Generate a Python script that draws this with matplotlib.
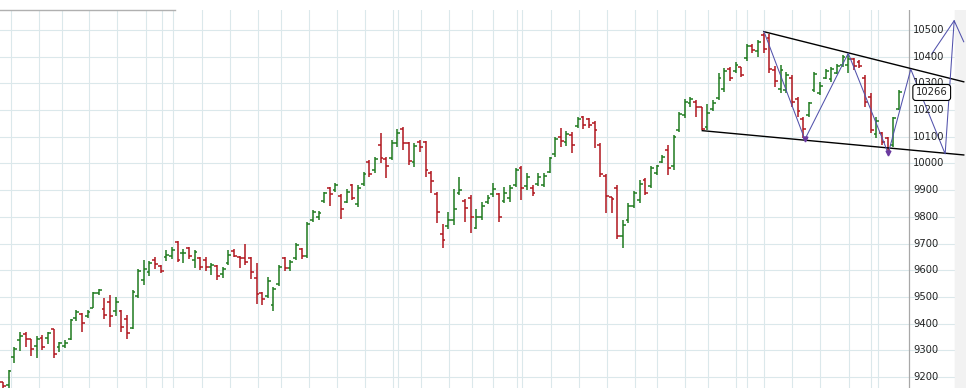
import matplotlib
matplotlib.use("Agg")
import matplotlib.pyplot as plt
import numpy as np

# --- OHLC data (one value per daily bar) ---
highs = [9183, 9227, 9312, 9368, 9368, 9343, 9354, 9358, 9368, 9380,
         9333, 9339, 9417, 9451, 9439, 9451, 9520, 9530, 9495, 9508,
         9501, 9451, 9433, 9526, 9604, 9639, 9635, 9651, 9620, 9676,
         9686, 9711, 9679, 9689, 9676, 9649, 9651, 9626, 9620, 9614,
         9676, 9679, 9654, 9697, 9649, 9627, 9519, 9575, 9538, 9620,
         9650, 9640, 9702, 9684, 9781, 9826, 9823, 9895, 9913, 9928,
         9886, 9903, 9923, 9920, 9970, 10013, 10026, 10113, 10023, 10088,
         10128, 10138, 10082, 10076, 10088, 10086, 9973, 9892, 9774, 9820,
         9903, 9948, 9867, 9882, 9828, 9857, 9882, 9926, 9888, 9911,
         9920, 9982, 9991, 9963, 9920, 9966, 9966, 10026, 10100, 10132,
         10123, 10119, 10173, 10178, 10169, 10160, 10076, 9961, 9876, 9920,
         9788, 9853, 9898, 9938, 9945, 9991, 9995, 10032, 10070, 10107,
         10194, 10240, 10250, 10238, 10210, 10223, 10238, 10338, 10357, 10363,
         10381, 10363, 10448, 10448, 10463, 10490, 10485, 10365, 10369, 10344,
         10332, 10248, 10173, 10232, 10344, 10307, 10353, 10363, 10373, 10406,
         10410, 10394, 10388, 10332, 10265, 10176, 10119, 10101, 10176, 10275]
lows = [9150, 9155, 9252, 9299, 9314, 9279, 9270, 9302, 9324, 9273,
        9295, 9308, 9339, 9411, 9370, 9423, 9458, 9508, 9417, 9389,
        9429, 9370, 9342, 9379, 9495, 9545, 9579, 9604, 9589, 9636,
        9641, 9630, 9629, 9641, 9608, 9601, 9599, 9583, 9564, 9570,
        9620, 9649, 9608, 9620, 9566, 9474, 9470, 9496, 9448, 9541,
        9597, 9598, 9639, 9642, 9646, 9781, 9789, 9853, 9842, 9895,
        9791, 9851, 9863, 9836, 9917, 9948, 9966, 10003, 9944, 10013,
        10063, 10051, 9994, 9988, 10044, 9948, 9891, 9776, 9685, 9754,
        9770, 9882, 9782, 9739, 9754, 9789, 9848, 9876, 9782, 9851,
        9857, 9911, 9863, 9901, 9878, 9916, 9913, 9966, 10026, 10063,
        10066, 10041, 10132, 10128, 10132, 10057, 9951, 9813, 9813, 9716,
        9685, 9776, 9832, 9851, 9882, 9907, 9957, 10001, 9957, 9976,
        10119, 10169, 10210, 10176, 10126, 10126, 10198, 10238, 10269, 10310,
        10338, 10323, 10385, 10413, 10400, 10413, 10340, 10288, 10265, 10263,
        10213, 10176, 10095, 10176, 10269, 10257, 10315, 10307, 10335, 10363,
        10338, 10350, 10356, 10211, 10113, 10094, 10069, 10038, 10063, 10200]
opens = [9180, 9170, 9274, 9339, 9362, 9343, 9317, 9345, 9345, 9379,
         9312, 9317, 9342, 9420, 9436, 9430, 9460, 9516, 9454, 9483,
         9448, 9448, 9417, 9382, 9502, 9564, 9595, 9639, 9616, 9651,
         9654, 9706, 9664, 9684, 9639, 9645, 9640, 9614, 9616, 9586,
         9626, 9672, 9649, 9645, 9645, 9570, 9516, 9505, 9470, 9550,
         9645, 9608, 9645, 9680, 9655, 9790, 9800, 9860, 9910, 9900,
         9880, 9855, 9918, 9850, 9925, 10005, 9975, 10070, 10015, 10020,
         10075, 10130, 10075, 10005, 10080, 10080, 9965, 9885, 9735, 9765,
         9790, 9890, 9860, 9870, 9760, 9800, 9855, 9885, 9885, 9860,
         9870, 9920, 9985, 9915, 9910, 9925, 9920, 9970, 10035, 10100,
         10080, 10105, 10140, 10175, 10165, 10150, 10070, 9955, 9876, 9910,
         9730, 9790, 9840, 9865, 9940, 9915, 9965, 10005, 10050, 9990,
         10125, 10180, 10225, 10230, 10210, 10135, 10205, 10245, 10280, 10355,
         10345, 10360, 10395, 10440, 10420, 10480, 10470, 10350, 10280, 10275,
         10320, 10240, 10165, 10180, 10275, 10265, 10320, 10315, 10340, 10370,
         10370, 10390, 10380, 10320, 10250, 10110, 10115, 10095, 10070, 10205]
closes = [9165, 9221, 9305, 9354, 9342, 9305, 9343, 9312, 9364, 9287,
          9327, 9329, 9414, 9443, 9402, 9445, 9514, 9526, 9433, 9429,
          9483, 9387, 9364, 9520, 9599, 9605, 9626, 9623, 9599, 9658,
          9676, 9639, 9666, 9654, 9670, 9614, 9612, 9620, 9579, 9604,
          9658, 9654, 9645, 9632, 9595, 9511, 9492, 9560, 9530, 9612,
          9610, 9632, 9695, 9655, 9775, 9818, 9815, 9888, 9885, 9920,
          9828, 9895, 9870, 9910, 9962, 9960, 10018, 10020, 9990, 10075,
          10115, 10075, 10010, 10065, 10060, 9975, 9935, 9820, 9715, 9790,
          9830, 9900, 9835, 9800, 9800, 9840, 9870, 9905, 9800, 9890,
          9910, 9975, 9910, 9950, 9890, 9950, 9955, 10020, 10090, 10085,
          10110, 10070, 10165, 10145, 10145, 10125, 9960, 9880, 9868, 9730,
          9770, 9840, 9890, 9925, 9890, 9985, 9990, 10025, 9985, 10100,
          10185, 10230, 10240, 10210, 10130, 10190, 10225, 10320, 10345, 10320,
          10370, 10330, 10440, 10425, 10455, 10430, 10355, 10310, 10350, 10330,
          10230, 10195, 10130, 10225, 10335, 10290, 10345, 10355, 10365, 10400,
          10390, 10365, 10365, 10230, 10125, 10160, 10080, 10050, 10170, 10266]

# date grid (bar positions of the vertical grid lines)
date_grid = [1.4, 6.4, 10.5, 15.3, 20.2, 25.4, 28.2, 30.2, 35.3, 40.3,
             45.3, 49.3, 54.3, 59.3, 64.2, 69.2, 70.1, 74.2, 79.2, 83.2,
             87.0, 91.2, 92.1, 97.3, 102.2, 107.2, 112.2, 116.1, 121.0, 125.1,
             130.1, 132.0, 135.1, 140.0, 145.0, 150.1, 154.0, 155.3, 169.0]

price_ticks = list(range(9200, 10600, 100))
last_price = 10266

# drawn objects: trend lines and zigzag (bar index, price)
upper_trend = ([135.0, 170.5], [10494, 10306])
lower_trend = ([124.1, 170.5], [10123, 10032])
zigzag_x = [135.05, 142.3, 150.0, 157.1, 161.1, 167.2, 168.8, 170.5]
zigzag_y = [10494, 10090, 10413, 10038, 10353, 10036, 10535, 10456]
proj_x = [164.8, 168.8]
proj_y = [10410, 10535]

GREEN = '#1f7a1f'
RED = '#b0161e'
GRID = '#dbe8eb'

fig = plt.figure(figsize=(9.66, 3.88), dpi=100)
ax = fig.add_axes([0, 0, 1, 378 / 388])

x = np.arange(len(highs))
o = np.array(opens)
c = np.array(closes)
col = np.where(c >= o, GREEN, RED)

ax.vlines(x, lows, highs, colors=col, lw=1.1, zorder=3)
ax.hlines(opens, x - 0.5, x, colors=col, lw=1.1, zorder=3)
ax.hlines(closes, x, x + 0.5, colors=col, lw=1.1, zorder=3)

# grid
for p in price_ticks:
    ax.axhline(p, color=GRID, lw=0.8, zorder=0)
for g in date_grid:
    ax.axvline(g, color=GRID, lw=0.8, zorder=0)

# price axis line and light grey strip at the right edge
ax.axvline(160.8, color='#a8a8a8', lw=0.9, zorder=2)
ax.axvspan(168.9, 171, color='#f2f2f2', zorder=0.5)

# trend lines
ax.plot(*upper_trend, color='black', lw=1.0, zorder=4)
ax.plot(*lower_trend, color='black', lw=1.0, zorder=4)
ax.plot(zigzag_x, zigzag_y, color='#5252ac', lw=0.75, zorder=5)
ax.plot(proj_x, proj_y, color='#5252ac', lw=0.75, zorder=5)
ax.plot([zigzag_x[1], zigzag_x[3]], [zigzag_y[1], zigzag_y[3]], ls='none',
        marker='v', ms=3.5, color='#6a3aa0', zorder=6)

# price labels
for p in price_ticks:
    ax.text(161.5, p, str(p), fontsize=7.2, va='center', ha='left',
            color='#222222', zorder=7)
ax.text(162.0, last_price, str(last_price), fontsize=7.2, va='center',
        ha='left', color='#222222', zorder=9,
        bbox=dict(boxstyle='round,pad=0.3', fc='white', ec='black', lw=0.8))

ax.set_xlim(-0.53, 170.9)
ax.set_ylim(9159, 10575)
ax.axis('off')

# top strip line
fig.add_artist(plt.Line2D([0, 175 / 966], [1 - 10 / 388, 1 - 10 / 388],
                          color='#b0b0b0', lw=1.0))

fig.savefig('out.png', dpi=100)
